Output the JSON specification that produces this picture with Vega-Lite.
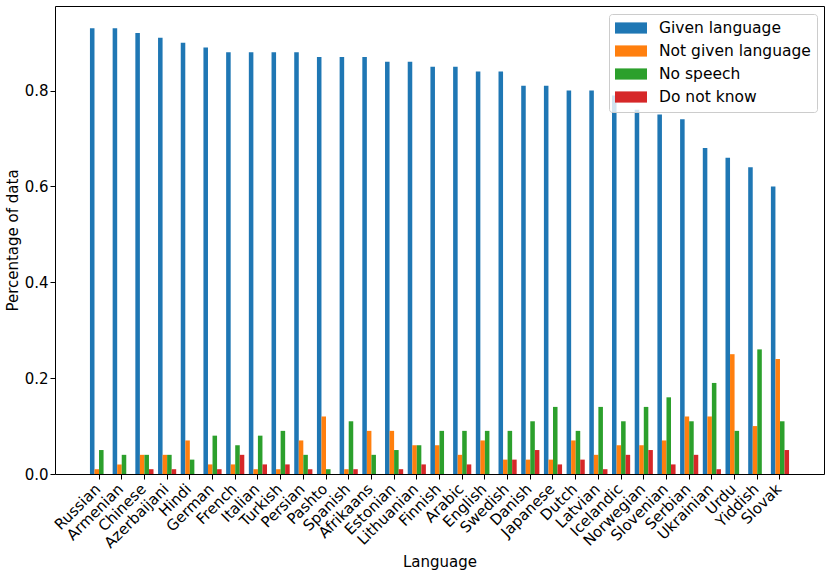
{
  "$schema": "https://vega.github.io/schema/vega-lite/v6.json",
  "description": "Share of responses per language: given language, not given language, no speech, do not know.",
  "width": 769,
  "height": 468,
  "autosize": {"type": "none"},
  "padding": {"left": 55, "top": 6, "right": 7, "bottom": 103},
  "data": {
    "values": [
      {"language": "Russian", "Given language": 0.93, "Not given language": 0.01, "No speech": 0.05, "Do not know": 0.0},
      {"language": "Armenian", "Given language": 0.93, "Not given language": 0.02, "No speech": 0.04, "Do not know": 0.0},
      {"language": "Chinese", "Given language": 0.92, "Not given language": 0.04, "No speech": 0.04, "Do not know": 0.01},
      {"language": "Azerbaijani", "Given language": 0.91, "Not given language": 0.04, "No speech": 0.04, "Do not know": 0.01},
      {"language": "Hindi", "Given language": 0.90, "Not given language": 0.07, "No speech": 0.03, "Do not know": 0.0},
      {"language": "German", "Given language": 0.89, "Not given language": 0.02, "No speech": 0.08, "Do not know": 0.01},
      {"language": "French", "Given language": 0.88, "Not given language": 0.02, "No speech": 0.06, "Do not know": 0.04},
      {"language": "Italian", "Given language": 0.88, "Not given language": 0.01, "No speech": 0.08, "Do not know": 0.02},
      {"language": "Turkish", "Given language": 0.88, "Not given language": 0.01, "No speech": 0.09, "Do not know": 0.02},
      {"language": "Persian", "Given language": 0.88, "Not given language": 0.07, "No speech": 0.04, "Do not know": 0.01},
      {"language": "Pashto", "Given language": 0.87, "Not given language": 0.12, "No speech": 0.01, "Do not know": 0.0},
      {"language": "Spanish", "Given language": 0.87, "Not given language": 0.01, "No speech": 0.11, "Do not know": 0.01},
      {"language": "Afrikaans", "Given language": 0.87, "Not given language": 0.09, "No speech": 0.04, "Do not know": 0.0},
      {"language": "Estonian", "Given language": 0.86, "Not given language": 0.09, "No speech": 0.05, "Do not know": 0.01},
      {"language": "Lithuanian", "Given language": 0.86, "Not given language": 0.06, "No speech": 0.06, "Do not know": 0.02},
      {"language": "Finnish", "Given language": 0.85, "Not given language": 0.06, "No speech": 0.09, "Do not know": 0.0},
      {"language": "Arabic", "Given language": 0.85, "Not given language": 0.04, "No speech": 0.09, "Do not know": 0.02},
      {"language": "English", "Given language": 0.84, "Not given language": 0.07, "No speech": 0.09, "Do not know": 0.0},
      {"language": "Swedish", "Given language": 0.84, "Not given language": 0.03, "No speech": 0.09, "Do not know": 0.03},
      {"language": "Danish", "Given language": 0.81, "Not given language": 0.03, "No speech": 0.11, "Do not know": 0.05},
      {"language": "Japanese", "Given language": 0.81, "Not given language": 0.03, "No speech": 0.14, "Do not know": 0.02},
      {"language": "Dutch", "Given language": 0.80, "Not given language": 0.07, "No speech": 0.09, "Do not know": 0.03},
      {"language": "Latvian", "Given language": 0.80, "Not given language": 0.04, "No speech": 0.14, "Do not know": 0.01},
      {"language": "Icelandic", "Given language": 0.79, "Not given language": 0.06, "No speech": 0.11, "Do not know": 0.04},
      {"language": "Norwegian", "Given language": 0.76, "Not given language": 0.06, "No speech": 0.14, "Do not know": 0.05},
      {"language": "Slovenian", "Given language": 0.75, "Not given language": 0.07, "No speech": 0.16, "Do not know": 0.02},
      {"language": "Serbian", "Given language": 0.74, "Not given language": 0.12, "No speech": 0.11, "Do not know": 0.04},
      {"language": "Ukrainian", "Given language": 0.68, "Not given language": 0.12, "No speech": 0.19, "Do not know": 0.01},
      {"language": "Urdu", "Given language": 0.66, "Not given language": 0.25, "No speech": 0.09, "Do not know": 0.0},
      {"language": "Yiddish", "Given language": 0.64, "Not given language": 0.10, "No speech": 0.26, "Do not know": 0.0},
      {"language": "Slovak", "Given language": 0.60, "Not given language": 0.24, "No speech": 0.11, "Do not know": 0.05}
    ]
  },
  "transform": [
    {
      "fold": ["Given language", "Not given language", "No speech", "Do not know"],
      "as": ["category", "value"]
    }
  ],
  "mark": {"type": "bar"},
  "encoding": {
    "x": {
      "field": "language",
      "type": "nominal",
      "sort": null,
      "title": "Language",
      "scale": {"paddingInner": 0.2, "paddingOuter": 0, "range": [34.95, 734.05]},
      "axis": {"labelAngle": -45, "labelPadding": 2, "labelOffset": -6, "titlePadding": 4}
    },
    "xOffset": {
      "field": "category",
      "type": "nominal",
      "sort": ["Given language", "Not given language", "No speech", "Do not know"]
    },
    "y": {
      "field": "value",
      "type": "quantitative",
      "title": "Percentage of data",
      "scale": {"domain": [0, 0.9765], "nice": false, "zero": true},
      "axis": {"values": [0, 0.2, 0.4, 0.6, 0.8], "format": ".1f", "titlePadding": 4}
    },
    "color": {
      "field": "category",
      "type": "nominal",
      "scale": {
        "domain": ["Given language", "Not given language", "No speech", "Do not know"],
        "range": ["#1f77b4", "#ff7f0e", "#2ca02c", "#d62728"]
      },
      "legend": {
        "title": null,
        "orient": "none",
        "legendX": 554,
        "legendY": 8,
        "symbolType": "M-2,-0.7H2V0.7H-2Z",
        "symbolSize": 256,
        "symbolOffset": 8,
        "symbolStrokeWidth": 0,
        "labelOffset": 20,
        "labelFontSize": 15.5,
        "labelColor": "black",
        "rowPadding": 6,
        "padding": 6,
        "fillColor": "rgba(255,255,255,0.8)",
        "strokeColor": "#cccccc",
        "cornerRadius": 3
      }
    },
    "tooltip": [
      {"field": "language", "type": "nominal", "title": "Language"},
      {"field": "category", "type": "nominal", "title": "Category"},
      {"field": "value", "type": "quantitative", "title": "Percentage"}
    ]
  },
  "config": {
    "font": "DejaVu Sans",
    "view": {"stroke": "black", "strokeWidth": 1},
    "axis": {
      "grid": false,
      "domain": false,
      "labelFontSize": 15,
      "titleFontSize": 15,
      "titleFontWeight": "normal",
      "labelColor": "black",
      "titleColor": "black",
      "tickColor": "black",
      "tickSize": 5
    }
  }
}
